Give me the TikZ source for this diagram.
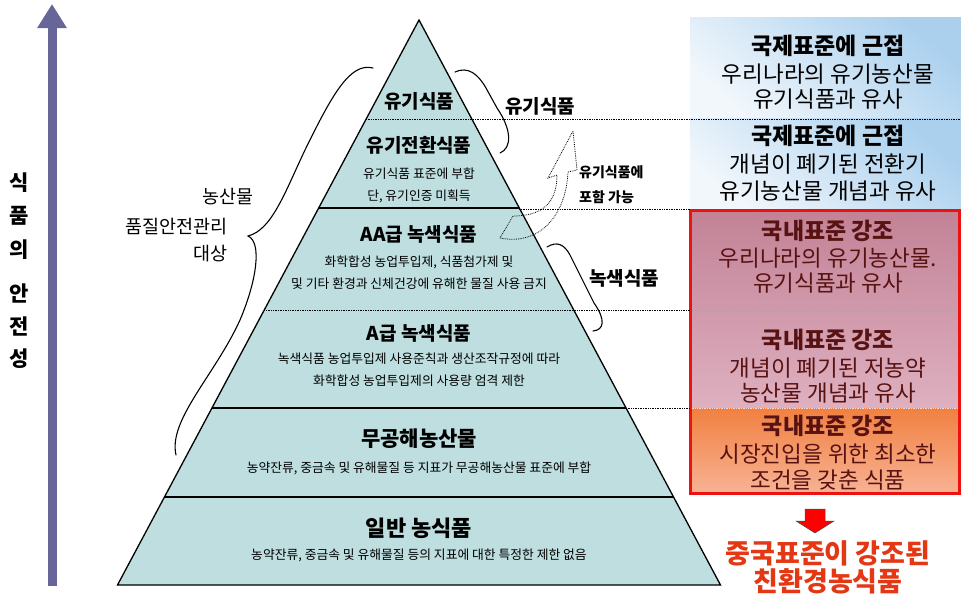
\documentclass[tikz,border=0pt]{standalone}
\usepackage{fontspec}
\setmainfont{Noto Sans CJK KR}
\usetikzlibrary{arrows.meta}
\definecolor{pyr}{RGB}{190,222,224}
\definecolor{arrowpurple}{RGB}{104,102,152}
\definecolor{boxblueA}{RGB}{170,208,238}
\definecolor{boxblueB}{RGB}{242,247,252}
\definecolor{mauveA}{RGB}{194,130,150}
\definecolor{mauveB}{RGB}{222,176,192}
\definecolor{orangeA}{RGB}{240,128,64}
\definecolor{orangeB}{RGB}{248,178,148}
\definecolor{maroon}{RGB}{88,18,18}
\definecolor{redtxt}{RGB}{228,56,20}
\definecolor{boxred}{RGB}{236,18,18}
\tikzset{
  ptitle/.style={font=\bfseries\fontsize{19}{21}\selectfont, inner sep=0pt},
  psub/.style={font=\fontsize{12.8}{14}\selectfont, inner sep=0pt},
  sidelbl/.style={font=\bfseries\fontsize{19}{21}\selectfont, inner sep=0pt},
  smalllbl/.style={font=\bfseries\fontsize{14}{16}\selectfont, inner sep=0pt, anchor=west},
  vchar/.style={font=\bfseries\fontsize{21}{23}\selectfont, inner sep=0pt},
  lefttxt/.style={font=\fontsize{18.5}{20}\selectfont, inner sep=0pt, anchor=east},
  btitle/.style={font=\bfseries\fontsize{23}{25}\selectfont, inner sep=0pt},
  bbody/.style={font=\fontsize{22.5}{24}\selectfont, inner sep=0pt},
  redlbl/.style={font=\bfseries\fontsize{27}{29}\selectfont, text=redtxt, inner sep=0pt},
  dotline/.style={densely dotted, line width=0.7pt},
  solidline/.style={line width=1.3pt},
  bracepath/.style={line width=1.1pt, line cap=round}
}
\begin{document}
\begin{tikzpicture}[x=1pt,y=-1pt]
\useasboundingbox (0,0) rectangle (961,600);
\fill[white] (0,0) rectangle (961,600);

% ---- left arrow ----
\coordinate (arrbot) at (52,586);
\coordinate (arrtop) at (52,4);
\draw[arrowpurple, line width=9pt, -{Triangle[width=28pt,length=24pt]}] (arrbot) -- (arrtop);

% ---- vertical text ----
\node[vchar] (v1) at (19,183) {식};
\node[vchar] (v2) at (19,216) {품};
\node[vchar] (v3) at (19,250) {의};
\node[vchar] (v4) at (19,293) {안};
\node[vchar] (v5) at (19,326) {전};
\node[vchar] (v6) at (19,359) {성};

% ---- right boxes ----
\shade[top color=boxblueA, bottom color=boxblueB, shading angle=-40] (690,17) rectangle (961,118);
\shade[top color=boxblueA, bottom color=boxblueB, shading angle=-40] (690,118) rectangle (961,209);
\shade[top color=mauveA, bottom color=mauveB] (690,210) rectangle (960,408);
\shade[top color=orangeA, bottom color=orangeB] (690,408) rectangle (960,493);
\draw[dotline, draw=mauveA!70!black!60] (690,310) -- (960,310);
\draw[dotline, draw=white!70!mauveA] (690,408) -- (960,408);
\draw[boxred, line width=3pt] (690,210) rectangle (959,493);

% ---- pyramid ----
\coordinate (apex) at (419,20);
\coordinate (bl) at (117.5,585);
\coordinate (br) at (720.5,585);
\filldraw[fill=pyr, draw=black, line width=1.3pt, line join=miter] (apex) -- (br) -- (bl) -- cycle;
\draw[solidline] (318.7,208) -- (519.3,208);
\draw[solidline] (212,408) -- (626,408);
\draw[solidline] (164.5,497) -- (673.5,497);
\draw[dotline] (366,119) -- (961,119);
\draw[dotline] (519.3,209) -- (690,209);
\draw[dotline] (264.3,310) -- (690,310);
\draw[dotline] (626,408) -- (690,408);

% ---- pyramid texts ----
\node[ptitle] (t1) at (419,101) {유기식품};
\node[ptitle] (t2) at (419,145) {유기전환식품};
\node[psub] (t2a) at (419,174) {유기식품 표준에 부합};
\node[psub] (t2b) at (419,196) {단, 유기인증 미획득};
\node[ptitle] (t3) at (419,234) {AA급 녹색식품};
\node[psub] (t3a) at (419,262) {화학합성 농업투입제, 식품첨가제 및};
\node[psub] (t3b) at (419,284) {및 기타 환경과 신체건강에 유해한 물질 사용 금지};
\node[ptitle] (t4) at (419,333) {A급 녹색식품};
\node[psub] (t4a) at (419,359) {녹색식품 농업투입제 사용준칙과 생산조작규정에 따라};
\node[psub] (t4b) at (419,381) {화학합성 농업투입제의 사용량 엄격 제한};
\node[ptitle, font=\bfseries\fontsize{21}{23}\selectfont] (t5) at (419,439) {무공해농산물};
\node[psub] (t5a) at (419,468) {농약잔류, 중금속 및 유해물질 등 지표가 무공해농산물 표준에 부합};
\node[ptitle, font=\bfseries\fontsize{22}{24}\selectfont] (t6) at (419,528) {일반 농식품};
\node[psub] (t6a) at (419,555) {농약잔류, 중금속 및 유해물질 등의 지표에 대한 특정한 제한 없음};

% ---- left label and brace ----
\node[lefttxt] (l1) at (254,197) {농산물};
\node[lefttxt] (l2) at (228,227) {품질안전관리};
\node[lefttxt] (l3) at (228,254) {대상};
\draw[bracepath] (373,68) .. controls (350,62) and (332,95) .. (305,150)
  .. controls (285,192) and (272,230) .. (248,236)
  .. controls (262,242) and (257,280) .. (240,320)
  .. controls (215,375) and (168,420) .. (176,455);

% ---- right braces and labels ----
\draw[bracepath] (455,72) .. controls (468,66) and (478,74) .. (486,88)
  -- (497,108) .. controls (512,130) and (512,148) .. (500,153);
\node[sidelbl] (s1) at (540,106) {유기식품};
\draw[bracepath] (547,247) .. controls (557,241) and (564,244) .. (570,255)
  -- (594,303) .. controls (606,320) and (604,330) .. (593,331);
\node[sidelbl] (s2) at (624,278) {녹색식품};

% ---- dotted curved arrow ----
\draw[densely dotted, line width=0.8pt] (500,238) .. controls (540,246) and (566,215) .. (568,172)
  -- (577,170) -- (573,131) -- (548,178) -- (557,175)
  .. controls (557,205) and (540,216) .. (513,216) -- cycle;
\node[smalllbl] (s3) at (579,172) {유기식품에};
\node[smalllbl] (s4) at (579,197) {포함 가능};

% ---- right box texts ----
\node[btitle] (b1) at (828,46) {국제표준에 근접};
\node[bbody] (b1a) at (828,74) {우리나라의 유기농산물};
\node[bbody] (b1b) at (828,99) {유기식품과 유사};
\node[btitle] (b2) at (828,136) {국제표준에 근접};
\node[bbody] (b2a) at (828,164) {개념이 폐기된 전환기};
\node[bbody] (b2b) at (828,191) {유기농산물 개념과 유사};
\node[btitle, text=maroon] (b3) at (828,231) {국내표준 강조};
\node[bbody, text=maroon] (b3a) at (828,258) {우리나라의 유기농산물.};
\node[bbody, text=maroon] (b3b) at (828,283) {유기식품과 유사};
\node[btitle, text=maroon] (b4) at (828,340) {국내표준 강조};
\node[bbody, text=maroon] (b4a) at (828,368) {개념이 폐기된 저농약};
\node[bbody, text=maroon] (b4b) at (828,393) {농산물 개념과 유사};
\node[btitle, text=maroon] (b5) at (828,426) {국내표준 강조};
\node[bbody, text=maroon] (b5a) at (828,454) {시장진입을 위한 최소한};
\node[bbody, text=maroon] (b5b) at (828,480) {조건을 갖춘 식품};

% ---- red arrow and bottom text ----
\filldraw[fill=red, draw=black!70, line width=0.5pt] (805,509) -- (825,509) -- (825,521) -- (834,521) -- (815,533) -- (796,521) -- (805,521) -- cycle;
\node[redlbl] (r1) at (828,553) {중국표준이 강조된};
\node[redlbl] (r2) at (828,581) {친환경농식품};
\end{tikzpicture}
\end{document}
